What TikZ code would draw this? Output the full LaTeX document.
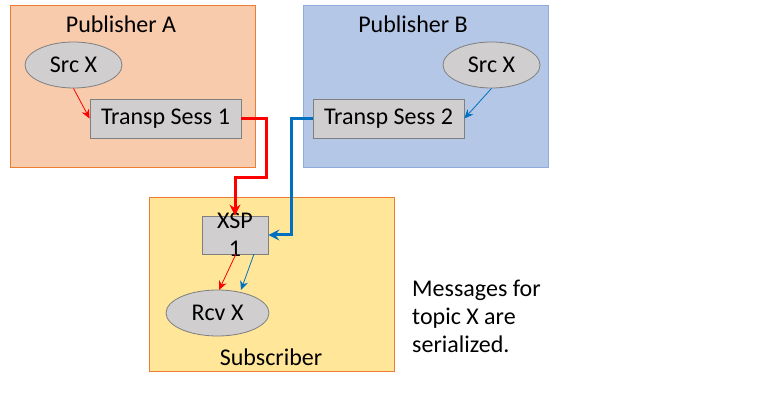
\documentclass[tikz,border=0pt]{standalone}
\usepackage{fontspec}
\setmainfont{Carlito}
\usetikzlibrary{arrows.meta,shapes.geometric}
\definecolor{pubAfill}{HTML}{F8CBAD}
\definecolor{pubAedge}{HTML}{ED7D31}
\definecolor{pubBfill}{HTML}{B4C7E7}
\definecolor{pubBedge}{HTML}{8FAADC}
\definecolor{subfill}{HTML}{FFE699}
\definecolor{greyfill}{HTML}{D0CECE}
\definecolor{greyedge}{HTML}{7F7F7F}
\definecolor{linkred}{HTML}{FF0000}
\definecolor{linkblue}{HTML}{0070C0}
\tikzset{
  txt/.style={font=\fontsize{24}{28}\selectfont, inner sep=0pt},
  srcell/.style={ellipse, draw=greyedge, fill=greyfill, line width=0.8pt, inner sep=0pt, font=\fontsize{24}{28}\selectfont},
  sessbox/.style={rectangle, draw=greyedge, fill=greyfill, line width=0.8pt, inner sep=0pt, font=\fontsize{24}{28}\selectfont},
  thinred/.style={draw=linkred, line width=0.8pt, -{Stealth[length=9pt,width=8pt]}},
  thinblue/.style={draw=linkblue, line width=0.8pt, -{Stealth[length=9pt,width=8pt]}},
  thickred/.style={draw=linkred, line width=3pt, -{Stealth[length=11pt,width=11pt]}},
  thickblue/.style={draw=linkblue, line width=3pt, -{Stealth[length=11pt,width=11pt,inset=4pt]}},
}
\begin{document}
\begin{tikzpicture}[x=1pt,y=-1pt]
\useasboundingbox (0,0) rectangle (768,403);
% group boxes
\node[rectangle, draw=pubAedge, fill=pubAfill, line width=1pt, minimum width=245pt, minimum height=162pt, inner sep=0pt, anchor=north west] (pubA) at (10,5) {};
\node[rectangle, draw=pubBedge, fill=pubBfill, line width=1pt, minimum width=245pt, minimum height=162pt, inner sep=0pt, anchor=north west] (pubB) at (303,5) {};
\node[rectangle, draw=pubAedge, fill=subfill, line width=1pt, minimum width=245pt, minimum height=174pt, inner sep=0pt, anchor=north west] (sub) at (149,197) {};
% group labels
\node[txt] (labA) at (121,24) {Publisher A};
\node[txt] (labB) at (413,24) {Publisher B};
\node[txt] (labS) at (271,357) {Subscriber};
% inner nodes
\node[srcell, minimum width=97pt, minimum height=46pt] (srcA) at (73.5,65) {Src X};
\node[sessbox, minimum width=151pt, minimum height=39pt] (ts1) at (165.5,118.5) {Transp Sess 1};
\node[srcell, minimum width=97pt, minimum height=46pt] (srcB) at (491.5,65) {Src X};
\node[sessbox, minimum width=151pt, minimum height=39pt] (ts2) at (388.5,118.5) {Transp Sess 2};
\node[sessbox, minimum width=66pt, minimum height=38pt] (xsp) at (235,235) {};
\node[txt, align=center] (xsptext) at (235,235) {XSP\\1};
\node[srcell, minimum width=103pt, minimum height=46pt] (rcv) at (217.5,313) {Rcv X};
% note
\node[txt, align=left, anchor=north west] (note) at (412,280) {Messages for\\topic X are\\serialized.};
% connectors
\coordinate (r1) at (266,178);
\coordinate (b1) at (291,235);
\coordinate (xr) at (236,254);
\coordinate (xb) at (254,254);
\coordinate (rr) at (219,290);
\coordinate (rb) at (241,290);
\draw[thinred] (srcA.south) -- (ts1.west);
\draw[thinblue] (srcB.south) -- (ts2.east);
\draw[thickred] (ts1.east) -| (r1) -| (xsp.north);
\draw[thickblue] (ts2.west) -| (b1) -- (xsp.east);
\draw[thinred] (xr) -- (rr);
\draw[thinblue] (xb) -- (rb);
\end{tikzpicture}
\end{document}
